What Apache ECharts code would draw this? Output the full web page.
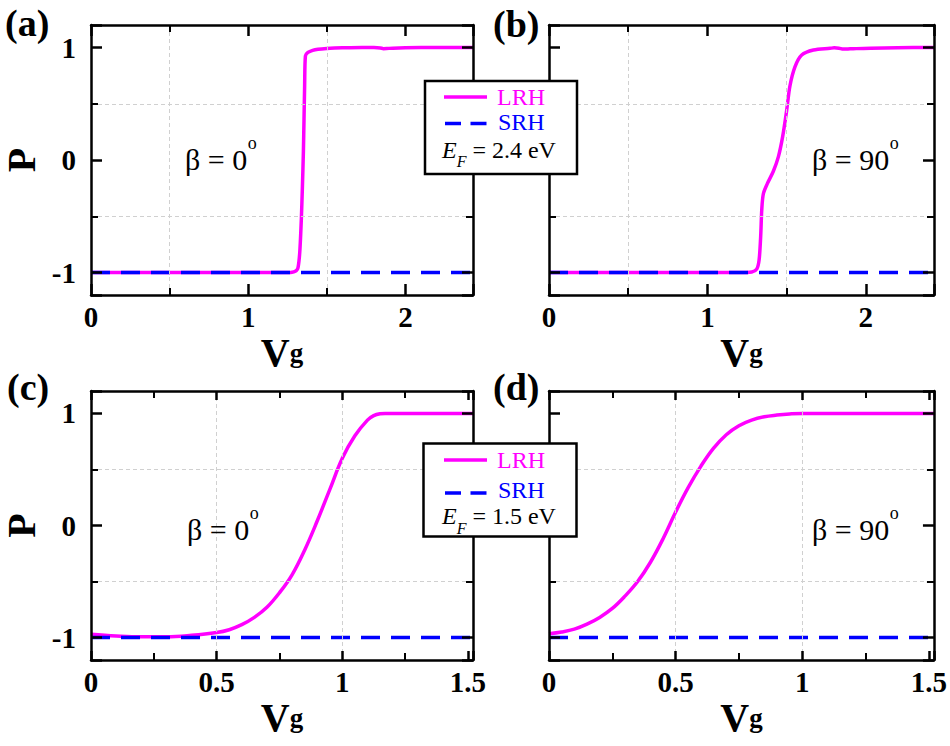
<!DOCTYPE html>
<html>
<head>
<meta charset="utf-8">
<script src="https://cdn.jsdelivr.net/npm/echarts@6.0.0/dist/echarts.min.js"></script>
<style>
  html, body { margin: 0; padding: 0; background: #fff; }
  #main { width: 950px; height: 746px; }
</style>
</head>
<body>
<div id="main"></div>
<script>
// ---- data ----
const aX = [0, 0.5, 1.0, 1.2, 1.27, 1.29, 1.305, 1.317, 1.328, 1.338, 1.345, 1.351, 1.355, 1.359, 1.364, 1.38, 1.41, 1.444, 1.5, 1.55, 1.65, 1.8, 1.84, 1.86, 1.88, 1.92, 2.0, 2.2, 2.43];
const aLRH = [-1, -1, -1, -1, -1, -0.995, -0.985, -0.956, -0.82, -0.526, -0.23, 0.07, 0.36, 0.66, 0.926, 0.956, 0.975, 0.985, 0.992, 0.995, 0.998, 1.0, 0.996, 0.99, 0.991, 0.994, 0.997, 1.0, 1.0];

const bX = [0, 0.5, 1.0, 1.2, 1.28, 1.311, 1.326, 1.336, 1.343, 1.353, 1.378, 1.416, 1.448, 1.475, 1.5, 1.521, 1.553, 1.595, 1.669, 1.774, 1.8, 1.83, 1.858, 1.9, 1.94, 2.03, 2.2, 2.43];
const bLRH = [-1, -1, -1, -1, -0.995, -0.97, -0.89, -0.68, -0.44, -0.30, -0.21, -0.10, 0.03, 0.21, 0.44, 0.66, 0.83, 0.933, 0.978, 0.993, 0.997, 0.994, 0.986, 0.988, 0.99, 0.994, 0.998, 1.0];

const cX = [0, 0.1, 0.2, 0.3, 0.4, 0.5, 0.55, 0.6, 0.65, 0.7, 0.75, 0.8, 0.85, 0.9, 0.95, 1.0, 1.05, 1.1, 1.125, 1.15, 1.17, 1.3, 1.52];
const cLRH = [-0.97, -0.985, -0.993, -0.993, -0.98, -0.955, -0.93, -0.885, -0.82, -0.73, -0.6, -0.44, -0.22, 0.04, 0.32, 0.6, 0.8, 0.94, 0.98, 0.997, 1.0, 1.0, 1.0];

const dX = [0, 0.05, 0.1, 0.15, 0.2, 0.25, 0.3, 0.35, 0.4, 0.45, 0.5, 0.55, 0.6, 0.65, 0.7, 0.75, 0.8, 0.85, 0.9, 0.95, 1.0, 1.2, 1.52];
const dLRH = [-0.965, -0.95, -0.925, -0.88, -0.82, -0.74, -0.63, -0.5, -0.33, -0.12, 0.12, 0.34, 0.53, 0.69, 0.81, 0.89, 0.94, 0.97, 0.985, 0.995, 1.0, 1.0, 1.0];

const srhTopX = [0, 2.43];
const srhBotX = [0, 1.52];
const srhY = [-1, -1];

const gridXTop = [0.5, 1.5];
const gridXBot = [0.5, 1.0];
const gridY = [0.5, -0.5];

const panelLabels = ['(a)', '(b)', '(c)', '(d)'];
const betaLabels = ['β = 0', 'β = 90', 'β = 0', 'β = 90'];
const efLabels = [' = 2.4 eV', ' = 1.5 eV'];

// ---- layout ----
const FONT = '"Liberation Serif", "Times New Roman", serif';
const LRH_COLOR = '#ff00ff';
const SRH_COLOR = '#0000ff';

const grids = [
  { left: 88, top: 25, width: 385, height: 270 },
  { left: 549, top: 25, width: 385, height: 270 },
  { left: 88, top: 391, width: 385, height: 269 },
  { left: 549, top: 391, width: 385, height: 269 }
];

const zip = (xs, ys) => xs.map((x, i) => [x, ys[i]]);

const measure = (text, font) => {
  const ctx = document.createElement('canvas').getContext('2d');
  ctx.font = font;
  return ctx.measureText(text).width;
};

const lineAxis = {
  onZero: false,
  lineStyle: { color: '#000', width: 2.5 }
};

const labelStyle = {
  fontFamily: FONT,
  fontWeight: 'bold',
  fontSize: 29,
  color: '#000'
};

const onStep = step => v => Math.abs(v / step - Math.round(v / step)) < 1e-6 ? String(v) : '';

const xAxes = (gi, max, interval, majorLen) => {
  const base = {
    type: 'value', gridIndex: gi, min: 0, max: max, interval: interval, z: 5,
    axisLine: lineAxis,
    axisTick: { inside: true, length: majorLen, lineStyle: { color: '#000', width: 2.5 } },
    minorTick: { show: true, splitNumber: 2, length: 7, lineStyle: { color: '#000', width: 2 } },
    splitLine: { show: false }
  };
  return [
    Object.assign({}, base, {
      position: 'bottom',
      axisLabel: Object.assign({ margin: 7, formatter: onStep(interval) }, labelStyle),
      name: '{v|V}{g|g}',
      nameLocation: 'middle',
      nameGap: 37,
      nameTextStyle: {
        rich: {
          v: { fontFamily: FONT, fontWeight: 'bold', fontSize: 40, lineHeight: 40, color: '#000' },
          g: { fontFamily: FONT, fontWeight: 'bold', fontSize: 27, lineHeight: 27, padding: [2, 0, 0, 0], color: '#000' }
        }
      }
    }),
    Object.assign({}, base, { position: 'top', axisLabel: { show: false } })
  ];
};

const yAxes = (gi, withLabels) => {
  const base = {
    type: 'value', gridIndex: gi, min: -1.2, max: 1.2, splitNumber: 2, z: 5,
    axisLine: lineAxis,
    axisTick: { inside: true, length: 11, lineStyle: { color: '#000', width: 2.5 } },
    minorTick: { show: true, splitNumber: 2, length: 7, lineStyle: { color: '#000', width: 2 } },
    splitLine: { show: false }
  };
  const left = Object.assign({}, base, { position: 'left' });
  if (withLabels) {
    left.axisLabel = Object.assign({ margin: 15, formatter: onStep(1) }, labelStyle);
    left.name = 'P';
    left.nameLocation = 'middle';
    left.nameGap = 50;
    left.nameRotate = 90;
    left.nameTextStyle = { fontFamily: FONT, fontWeight: 'bold', fontSize: 40, color: '#000' };
  } else {
    left.axisLabel = { show: false };
  }
  return [left, Object.assign({}, base, { position: 'right', axisLabel: { show: false } })];
};

const gridMarks = xs => ({
  silent: true,
  symbol: ['none', 'none'],
  label: { show: false },
  lineStyle: { color: '#d0d0d0', type: [4, 3], width: 1 },
  data: xs.map(v => ({ xAxis: v })).concat(gridY.map(v => ({ yAxis: v })))
});

const panels = [
  { x: aX, y: aLRH, srhX: srhTopX, gx: gridXTop, smooth: 0.25 },
  { x: bX, y: bLRH, srhX: srhTopX, gx: gridXTop, smooth: 0.3 },
  { x: cX, y: cLRH, srhX: srhBotX, gx: gridXBot, smooth: 0.4 },
  { x: dX, y: dLRH, srhX: srhBotX, gx: gridXBot, smooth: 0.4 }
];

const series = [];
panels.forEach((p, i) => {
  series.push({
    name: 'LRH', type: 'line', xAxisIndex: 2 * i, yAxisIndex: 2 * i,
    data: zip(p.x, p.y), symbol: 'none', smooth: p.smooth,
    lineStyle: { color: LRH_COLOR, width: 3.5 },
    markLine: gridMarks(p.gx)
  });
  series.push({
    name: 'SRH', type: 'line', xAxisIndex: 2 * i, yAxisIndex: 2 * i,
    data: zip(p.srhX, srhY), symbol: 'none',
    lineStyle: { color: SRH_COLOR, width: 3.5, type: [19, 11] }
  });
});

const xAxis = [].concat(
  xAxes(0, 2.43, 1, 11), xAxes(1, 2.43, 1, 11),
  xAxes(2, 1.52, 0.5, 9), xAxes(3, 1.52, 0.5, 9)
);
const yAxis = [].concat(yAxes(0, true), yAxes(1, false), yAxes(2, true), yAxes(3, false));

// ---- annotations ----
const panelPos = [[5, 23], [493, 24], [7, 387], [493, 387]];
const betaPos = [[185, 159], [812, 159], [187, 529], [812, 529]];

const graphics = [];
panelLabels.forEach((t, i) => {
  graphics.push({
    type: 'text', z: 100,
    style: {
      text: t, x: panelPos[i][0], y: panelPos[i][1],
      fontFamily: FONT, fontWeight: 'bold', fontSize: 38, fill: '#000',
      verticalAlign: 'middle'
    }
  });
});
betaLabels.forEach((t, i) => {
  const [bx, by] = betaPos[i];
  const w = measure(t, '30px ' + FONT);
  graphics.push(
    { type: 'text', z: 100, style: { text: t, x: bx, y: by, verticalAlign: 'middle',
      fontFamily: FONT, fontSize: 30, fill: '#000' } },
    { type: 'text', z: 100, style: { text: 'o', x: bx + w + 0.5, y: by - 16, verticalAlign: 'middle',
      fontFamily: FONT, fontSize: 18, fill: '#000' } }
  );
});

const legendBoxes = [
  { x: 425, y: 81, w: 152, h: 93, lrh: 97, srh: 123.5, srhText: 122, ef: 137.5 },
  { x: 423.5, y: 443.5, w: 153, h: 93, lrh: 460, srh: 493, srhText: 490, ef: 504 }
];
legendBoxes.forEach((b, i) => {
  graphics.push(
    { type: 'rect', z: 100, shape: { x: b.x, y: b.y, width: b.w, height: b.h },
      style: { fill: '#fff', stroke: '#000', lineWidth: 2.5 } },
    { type: 'line', z: 101, shape: { x1: 444, y1: b.lrh, x2: 487, y2: b.lrh },
      style: { stroke: LRH_COLOR, lineWidth: 3.5 } },
    { type: 'line', z: 101, shape: { x1: 445, y1: b.srh, x2: 487.5, y2: b.srh },
      style: { stroke: SRH_COLOR, lineWidth: 3.5, lineDash: [16, 9.5] } },
    { type: 'text', z: 101, style: { text: 'LRH', x: 497, y: b.lrh, verticalAlign: 'middle',
      fontFamily: FONT, fontSize: 24, fill: LRH_COLOR } },
    { type: 'text', z: 101, style: { text: 'SRH', x: 498, y: b.srhText, verticalAlign: 'middle',
      fontFamily: FONT, fontSize: 24, fill: SRH_COLOR } },
    { type: 'text', z: 101, style: {
      text: '{e|E}{f|F}{t|' + efLabels[i] + '}', x: 442, y: b.ef, verticalAlign: 'top',
      rich: {
        e: { fontFamily: FONT, fontStyle: 'italic', fontSize: 24, lineHeight: 24, verticalAlign: 'top', fill: '#000' },
        f: { fontFamily: FONT, fontStyle: 'italic', fontSize: 16, lineHeight: 16, padding: [16, 0, 0, 0], verticalAlign: 'top', fill: '#000' },
        t: { fontFamily: FONT, fontSize: 24, lineHeight: 24, verticalAlign: 'top', fill: '#000' }
      }
    } }
  );
});

const chart = echarts.init(document.getElementById('main'), null, { renderer: 'svg' });
chart.setOption({
  backgroundColor: '#fff',
  animation: false,
  grid: grids,
  xAxis: xAxis,
  yAxis: yAxis,
  series: series,
  graphic: graphics
});
</script>
</body>
</html>
